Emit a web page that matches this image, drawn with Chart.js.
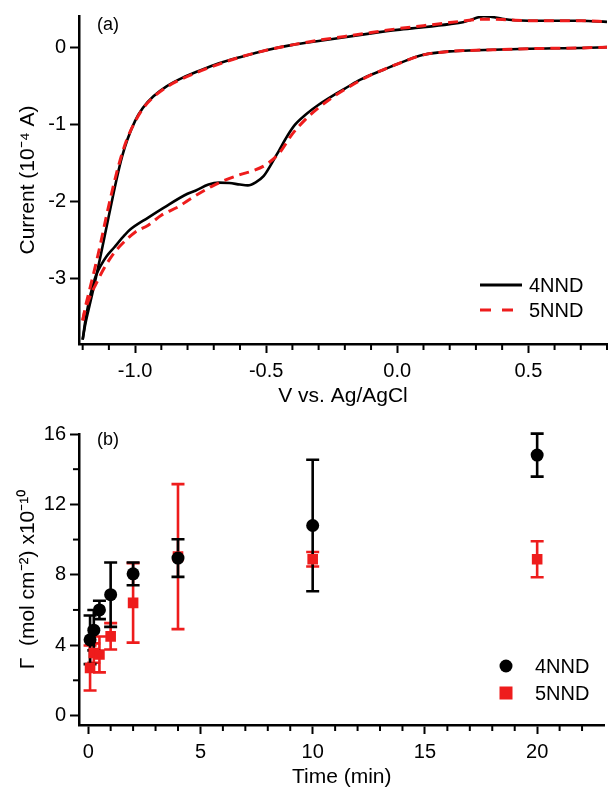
<!DOCTYPE html>
<html>
<head>
<meta charset="utf-8">
<script src="https://cdn.jsdelivr.net/npm/chart.js@4.4.1/dist/chart.umd.min.js"></script>
<style>
  html, body { margin: 0; padding: 0; background: #fff; }
  #wrap { position: relative; width: 612px; height: 790px; }
  #cv { position: absolute; left: 0; top: 0; }
  #cov { position: absolute; left: 0; top: 410px; }
</style>
</head>
<body>
<div id="wrap">
  <canvas id="cv" width="612" height="410"></canvas>
  <canvas id="cov" width="612" height="380"></canvas>
</div>
<script>
/* ---------- panel (a): cyclic voltammograms ---------- */
const seriesNames = ["4NND", "5NND"];

// 4NND, cathodic (lower) branch
const cath4V = [-1.2, -1.19, -1.18, -1.17, -1.16, -1.15, -1.13, -1.11, -1.08, -1.04, -1.02, -0.95, -0.89, -0.8, -0.77, -0.72, -0.68, -0.64, -0.6, -0.57, -0.54, -0.51, -0.48, -0.45, -0.42, -0.39, -0.35, -0.3, -0.25, -0.2, -0.15, -0.1, -0.05, 0.0, 0.1, 0.2, 0.3, 0.4, 0.5, 0.6, 0.7, 0.8];
const cath4I = [-3.8, -3.56, -3.37, -3.21, -3.08, -2.97, -2.83, -2.72, -2.6, -2.44, -2.37, -2.21, -2.08, -1.9, -1.86, -1.78, -1.755, -1.76, -1.78, -1.79, -1.75, -1.67, -1.51, -1.33, -1.15, -1.0, -0.87, -0.74, -0.63, -0.53, -0.43, -0.35, -0.28, -0.21, -0.09, -0.045, -0.03, -0.02, -0.01, -0.005, 0.0, 0.01];
// 4NND, anodic (upper) branch
const anod4V = [-1.2, -1.19, -1.17, -1.15, -1.13, -1.11, -1.09, -1.07, -1.05, -1.03, -1.0, -0.97, -0.93, -0.88, -0.82, -0.75, -0.68, -0.6, -0.5, -0.4, -0.3, -0.2, -0.1, 0.0, 0.1, 0.2, 0.25, 0.28, 0.31, 0.33, 0.36, 0.4, 0.45, 0.5, 0.6, 0.7, 0.8];
const anod4I = [-3.8, -3.6, -3.3, -3.0, -2.68, -2.35, -2.02, -1.7, -1.42, -1.2, -0.95, -0.78, -0.63, -0.5, -0.39, -0.29, -0.2, -0.12, -0.03, 0.04, 0.09, 0.14, 0.19, 0.235, 0.27, 0.31, 0.335, 0.365, 0.4, 0.415, 0.405, 0.38, 0.36, 0.355, 0.355, 0.355, 0.34];
// 5NND, cathodic branch
const cath5V = [-1.2, -1.19, -1.18, -1.17, -1.15, -1.12, -1.08, -1.04, -1.0, -0.95, -0.9, -0.83, -0.8, -0.7, -0.6, -0.55, -0.5, -0.45, -0.4, -0.35, -0.3, -0.25, -0.2, -0.15, -0.1, -0.05, 0.0, 0.1, 0.2, 0.3, 0.4, 0.5, 0.6, 0.7, 0.8];
const cath5I = [-3.55, -3.41, -3.31, -3.22, -3.08, -2.88, -2.67, -2.52, -2.4, -2.31, -2.18, -2.06, -1.99, -1.79, -1.65, -1.6, -1.52, -1.37, -1.12, -0.93, -0.78, -0.65, -0.54, -0.44, -0.35, -0.28, -0.21, -0.09, -0.045, -0.03, -0.02, -0.01, -0.005, 0.0, 0.01];
// 5NND, anodic branch
const anod5V = [-1.2, -1.19, -1.17, -1.15, -1.13, -1.11, -1.09, -1.07, -1.05, -1.03, -1.0, -0.97, -0.93, -0.88, -0.82, -0.75, -0.68, -0.6, -0.5, -0.4, -0.3, -0.2, -0.1, 0.0, 0.1, 0.2, 0.25, 0.3, 0.35, 0.4, 0.45, 0.5, 0.6, 0.7, 0.8];
const anod5I = [-3.55, -3.38, -3.1, -2.82, -2.52, -2.2, -1.9, -1.62, -1.38, -1.18, -0.96, -0.79, -0.64, -0.51, -0.4, -0.3, -0.21, -0.12, -0.03, 0.04, 0.1, 0.15, 0.2, 0.25, 0.29, 0.33, 0.35, 0.37, 0.375, 0.37, 0.36, 0.355, 0.355, 0.355, 0.34];

const vMajor = [-1.0, -0.5, 0.0, 0.5];
const vMinor = [-1.2, -1.1, -0.9, -0.8, -0.7, -0.6, -0.4, -0.3, -0.2, -0.1, 0.1, 0.2, 0.3, 0.4, 0.6, 0.7, 0.8];
const iMajor = [-3, -2, -1, 0];

/* ---------- panel (b): surface coverage vs time ---------- */
const times = [0.083, 0.25, 0.5, 1, 2, 4, 10, 20];
const gamma4 = [4.3, 4.85, 6.0, 6.87, 8.05, 8.95, 10.8, 14.8];
const err4 = [1.38, 1.15, 0.52, 1.83, 0.65, 1.07, 3.74, 1.22];
const gamma5 = [2.7, 3.55, 3.47, 4.5, 6.4, 9.03, 8.88, 8.88];
const err5 = [1.28, 0.55, 1.02, 0.75, 2.26, 4.12, 0.41, 1.02];

const tMajor = [0, 5, 10, 15, 20];
const tMinor = [1, 2, 3, 4, 6, 7, 8, 9, 11, 12, 13, 14, 16, 17, 18, 19, 21, 22];
const gMajor = [0, 4, 8, 12, 16];
const gMinor = [2, 6, 10, 14];

/* ---------- shared style ---------- */
const BLACK = "#000000";
const RED = "#ee1c1c";
Chart.defaults.font.family = '"Liberation Sans", Arial, Helvetica, sans-serif';
Chart.defaults.color = BLACK;

const pairs = (xs, ys) => xs.map((x, i) => ({ x, y: ys[i] }));

function axis(min, max, major, titleText, titlePad, fmt, fitSize, horizontal) {
  return {
    type: "linear",
    min, max,
    afterBuildTicks: (s) => { s.ticks = major.map((v) => ({ value: v })); },
    afterFit: (s) => { if (horizontal) s.height = fitSize; else s.width = fitSize; },
    ticks: { font: { size: 20 }, color: BLACK, padding: horizontal ? 6 : 4, maxRotation: 0, autoSkip: false, callback: fmt },
    grid: { drawOnChartArea: false, tickLength: 9, tickWidth: 2, tickColor: BLACK },
    border: { width: 2.5, color: BLACK },
    title: { display: true, text: titleText, font: { size: 21 }, color: BLACK, padding: titlePad },
  };
}

// short minor ticks, from the scales
const minorTicks = {
  id: "minorTicks",
  afterDraw(chart, args, opts) {
    const ctx = chart.ctx;
    ctx.save();
    ctx.strokeStyle = BLACK;
    ctx.lineWidth = 2;
    ["x", "y"].forEach((id) => {
      const s = chart.scales[id];
      (opts[id] || []).forEach((v) => {
        const p = s.getPixelForValue(v);
        ctx.beginPath();
        if (s.isHorizontal()) { ctx.moveTo(p, s.top); ctx.lineTo(p, s.top + 6); }
        else { ctx.moveTo(s.right, p); ctx.lineTo(s.right - 6, p); }
        ctx.stroke();
      });
    });
    ctx.restore();
  },
};

// vertical error bars with caps
const errorBars = {
  id: "errorBars",
  beforeDatasetsDraw(chart) {
    const { ctx, scales: { x, y } } = chart;
    for (let i = chart.data.datasets.length - 1; i >= 0; i--) {
      const ds = chart.data.datasets[i];
      if (!ds.errors) continue;
      ctx.save();
      ctx.strokeStyle = ds.borderColor;
      ctx.lineWidth = 2.6;
      ds.data.forEach((p, k) => {
        const px = x.getPixelForValue(p.x);
        const top = y.getPixelForValue(p.y + ds.errors[k]);
        const bot = y.getPixelForValue(p.y - ds.errors[k]);
        ctx.beginPath();
        ctx.moveTo(px, top); ctx.lineTo(px, bot);
        ctx.moveTo(px - 6.5, top); ctx.lineTo(px + 6.5, top);
        ctx.moveTo(px - 6.5, bot); ctx.lineTo(px + 6.5, bot);
        ctx.stroke();
      });
      ctx.restore();
    }
  },
};

// panel letter + legend inside the plot
const annotations = {
  id: "annotations",
  afterDraw(chart, args, opts) {
    const ctx = chart.ctx;
    ctx.save();
    ctx.fillStyle = BLACK;
    ctx.textBaseline = "middle";
    ctx.font = '18px "Liberation Sans", Arial, sans-serif';
    ctx.textAlign = "center";
    ctx.fillText(opts.tag, opts.tagX, opts.tagY);
    ctx.font = '20px "Liberation Sans", Arial, sans-serif';
    ctx.textAlign = "left";
    opts.items.forEach((it, k) => {
      const y = opts.y0 + k * opts.dy;
      if (it.kind === "line") {
        ctx.strokeStyle = it.color;
        ctx.lineWidth = it.dash ? 3 : 2.8;
        ctx.setLineDash(it.dash || []);
        ctx.beginPath();
        ctx.moveTo(opts.symX, y); ctx.lineTo(opts.symX + 42, y);
        ctx.stroke();
        ctx.setLineDash([]);
      } else if (it.kind === "circle") {
        ctx.fillStyle = it.color;
        ctx.beginPath(); ctx.arc(opts.symX, y, 6.5, 0, Math.PI * 2); ctx.fill();
      } else {
        ctx.fillStyle = it.color;
        ctx.fillRect(opts.symX - 6.5, y - 6.5, 13, 13);
      }
      ctx.fillStyle = BLACK;
      ctx.fillText(it.label, opts.textX, y + 1);
    });
    ctx.restore();
  },
};

function cvSet(label, vs, is, color, dash, order) {
  return {
    label, data: pairs(vs, is), showLine: true, order,
    borderColor: color, borderWidth: dash ? 3 : 2.6, borderDash: dash || [],
    pointRadius: 0, cubicInterpolationMode: "monotone", fill: false,
  };
}

new Chart(document.getElementById("cv"), {
  type: "scatter",
  data: {
    datasets: [
      cvSet(seriesNames[0], cath4V, cath4I, BLACK, null, 1),
      cvSet(seriesNames[0], anod4V, anod4I, BLACK, null, 1),
      cvSet(seriesNames[1], cath5V, cath5I, RED, [10, 6], 0),
      cvSet(seriesNames[1], anod5V, anod5I, RED, [10, 6], 0),
    ],
  },
  options: {
    responsive: false, animation: false, devicePixelRatio: 1,
    layout: { padding: { top: 15, right: 5, left: 0, bottom: 0 } },
    plugins: {
      legend: { display: false }, tooltip: { enabled: false },
      minorTicks: { x: vMinor },
      annotations: {
        tag: "(a)", tagX: 108, tagY: 25, symX: 480, textX: 529, y0: 285, dy: 25,
        items: [
          { kind: "line", color: BLACK, label: seriesNames[0] },
          { kind: "line", color: RED, dash: [11, 11], label: seriesNames[1] },
        ],
      },
    },
    scales: {
      x: axis(-1.214, 0.8, vMajor, "V vs. Ag/AgCl", { top: 0, bottom: 1 }, (v) => v.toFixed(1), 66, true),
      y: axis(-3.857, 0.416, iMajor, "Current (10\u207B\u2074 A)", { top: 16, bottom: 0 }, (v) => String(v), 79, false),
    },
  },
  plugins: [minorTicks, annotations],
});

new Chart(document.getElementById("cov"), {
  type: "scatter",
  data: {
    datasets: [
      {
        label: seriesNames[0], data: pairs(times, gamma4), errors: err4,
        pointStyle: "circle", pointRadius: 6.5, backgroundColor: BLACK, borderColor: BLACK, borderWidth: 0,
      },
      {
        label: seriesNames[1], data: pairs(times, gamma5), errors: err5,
        pointStyle: "rect", pointRadius: 7.5, backgroundColor: RED, borderColor: RED, borderWidth: 0,
      },
    ],
  },
  options: {
    responsive: false, animation: false, devicePixelRatio: 1,
    layout: { padding: { top: 24, right: 0, left: 0, bottom: 0 } },
    plugins: {
      legend: { display: false }, tooltip: { enabled: false },
      minorTicks: { x: tMinor, y: gMinor },
      annotations: {
        tag: "(b)", tagX: 108, tagY: 30, symX: 506, textX: 535, y0: 256, dy: 27,
        items: [
          { kind: "circle", color: BLACK, label: seriesNames[0] },
          { kind: "rect", color: RED, label: seriesNames[1] },
        ],
      },
    },
    scales: {
      x: axis(-0.41, 23.0, tMajor, "Time (min)", { top: 0, bottom: 0 }, (v) => String(v), 65, true),
      y: axis(-0.54, 16, gMajor, "\u0393  (mol cm\u207B\u00B2) x10\u207B\u00B9\u2070", { top: 16, bottom: 0 }, (v) => String(v), 79, false),
    },
  },
  plugins: [minorTicks, errorBars, annotations],
});
</script>
</body>
</html>
